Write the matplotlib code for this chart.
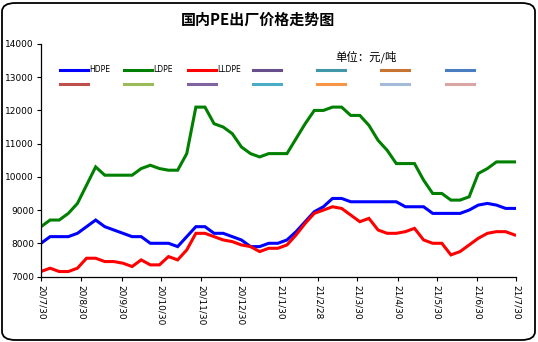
import matplotlib
matplotlib.use("Agg")
import matplotlib.pyplot as plt
from matplotlib.patches import FancyBboxPatch
from matplotlib.lines import Line2D
import pandas as pd

plt.rcParams['font.family'] = ['DejaVu Sans', 'Noto Sans CJK SC']

# weekly points, 2020-07-30 .. 2021-07-29
dates = pd.date_range("2020-07-30", periods=53, freq="7D")

hdpe = [8000, 8200, 8200, 8200, 8300, 8500, 8700, 8500, 8400, 8300, 8200, 8200, 8000, 8000,
        8000, 7900, 8200, 8500, 8500, 8300, 8300, 8200, 8100, 7900, 7900, 8000, 8000,
        8100, 8350, 8650, 8950, 9100, 9350, 9350, 9250, 9250, 9250, 9250, 9250, 9250,
        9100, 9100, 9100, 8900, 8900, 8900, 8900, 9000, 9150, 9200, 9150, 9050, 9050]
ldpe = [8500, 8700, 8700, 8900, 9200, 9750, 10300, 10050, 10050, 10050, 10050,
        10250, 10350, 10250, 10200, 10200, 10700, 12100, 12100, 11600, 11500, 11300, 10900,
        10700, 10600, 10700, 10700,
        10700, 11150, 11600, 12000, 12000, 12100, 12100, 11850, 11850, 11550, 11100, 10800, 10400,
        10400, 10400, 9900, 9500, 9500, 9300, 9300, 9400, 10100, 10250, 10450, 10450, 10450]
lldpe = [7150, 7250, 7150, 7150, 7250, 7550, 7550, 7450, 7450, 7400, 7300, 7500, 7350, 7350,
         7600, 7500, 7800, 8300, 8300, 8200, 8100, 8050, 7950, 7900, 7750, 7850, 7850,
         7950, 8250, 8600, 8900, 9000, 9100, 9050, 8850, 8650, 8750, 8400, 8300, 8300,
         8350, 8450, 8100, 8000, 8000, 7650, 7750, 7950, 8150, 8300, 8350, 8350, 8250]

tick_dates = ["2020-07-30", "2020-08-30", "2020-09-30", "2020-10-30", "2020-11-30",
              "2020-12-30", "2021-01-30", "2021-02-28", "2021-03-30", "2021-04-30",
              "2021-05-30", "2021-06-30", "2021-07-30"]
tick_labels = ["20/7/30", "20/8/30", "20/9/30", "20/10/30", "20/11/30", "20/12/30",
               "21/1/30", "21/2/28", "21/3/30", "21/4/30", "21/5/30", "21/6/30", "21/7/30"]

series_names = ["HDPE", "LDPE", "LLDPE"]
series_colors = ["#0000FF", "#008000", "#FF0000"]
# empty series shown in the legend only
extra_colors = ["#664F8A", "#4196A8", "#C87533", "#4A7EC0",
                "#C0504D", "#9BBB59", "#8064A2", "#4BACC6",
                "#F79646", "#A5B9D8", "#D9A5A5"]

W, H = 538, 342
fig = plt.figure(figsize=(W / 100, H / 100), dpi=100)
fig.patch.set_facecolor("white")

border = FancyBboxPatch((2 / W, 2 / H), 533 / W, 337 / H,
                        boxstyle="round,pad=0,rounding_size=0.025",
                        transform=fig.transFigure, facecolor="none",
                        edgecolor="black", linewidth=1.3, zorder=5)
fig.patches.append(border)

ax = fig.add_axes([41 / W, 1 - 276.5 / H, 475 / W, (276.5 - 44) / H])
ax.set_facecolor("none")

for vals, c in zip([hdpe, ldpe, lldpe], series_colors):
    ax.plot(dates, vals, color=c, linewidth=2.2, solid_joinstyle="miter")

ax.set_ylim(7000, 14000)
ax.set_yticks(range(7000, 14001, 1000))
ax.set_xlim(pd.Timestamp("2020-07-30"), pd.Timestamp("2021-07-30"))
ax.set_xticks(pd.to_datetime(tick_dates))
ax.set_xticklabels(tick_labels, rotation=270, fontsize=6.5)
ax.tick_params(axis="y", labelsize=6.5, length=3, width=0.8, pad=2)
ax.tick_params(axis="x", length=3, width=0.8, pad=3)
for s in ["top", "right"]:
    ax.spines[s].set_visible(False)
for s in ["left", "bottom"]:
    ax.spines[s].set_linewidth(0.9)

fig.text(258 / W, 1 - 20 / H, "国内PE出厂价格走势图", ha="center", va="center",
         fontsize=10.8, fontweight="bold", family=["Noto Sans CJK SC"])
fig.text(335 / W, 1 - 57 / H, "单位：元/吨", ha="left", va="center",
         fontsize=8.2, family=["Noto Sans CJK SC"])

# legend: 7 columns x 2 rows
col_x = [60, 124, 188, 253, 317, 381, 446]
row_y = [70, 84]
labels = series_names + [""] * len(extra_colors)
colors = series_colors + extra_colors
for i, (lab, c) in enumerate(zip(labels, colors)):
    r, k = divmod(i, 7)
    x0 = col_x[k]
    y0 = 1 - row_y[r] / H
    fig.add_artist(Line2D([x0 / W, (x0 + 28) / W], [y0, y0], color=c, linewidth=2.2,
                          transform=fig.transFigure))
    if lab:
        fig.text((x0 + 29) / W, y0, lab, ha="left", va="center", fontsize=5.5)

fig.savefig("out.png", dpi=100, facecolor="white")
